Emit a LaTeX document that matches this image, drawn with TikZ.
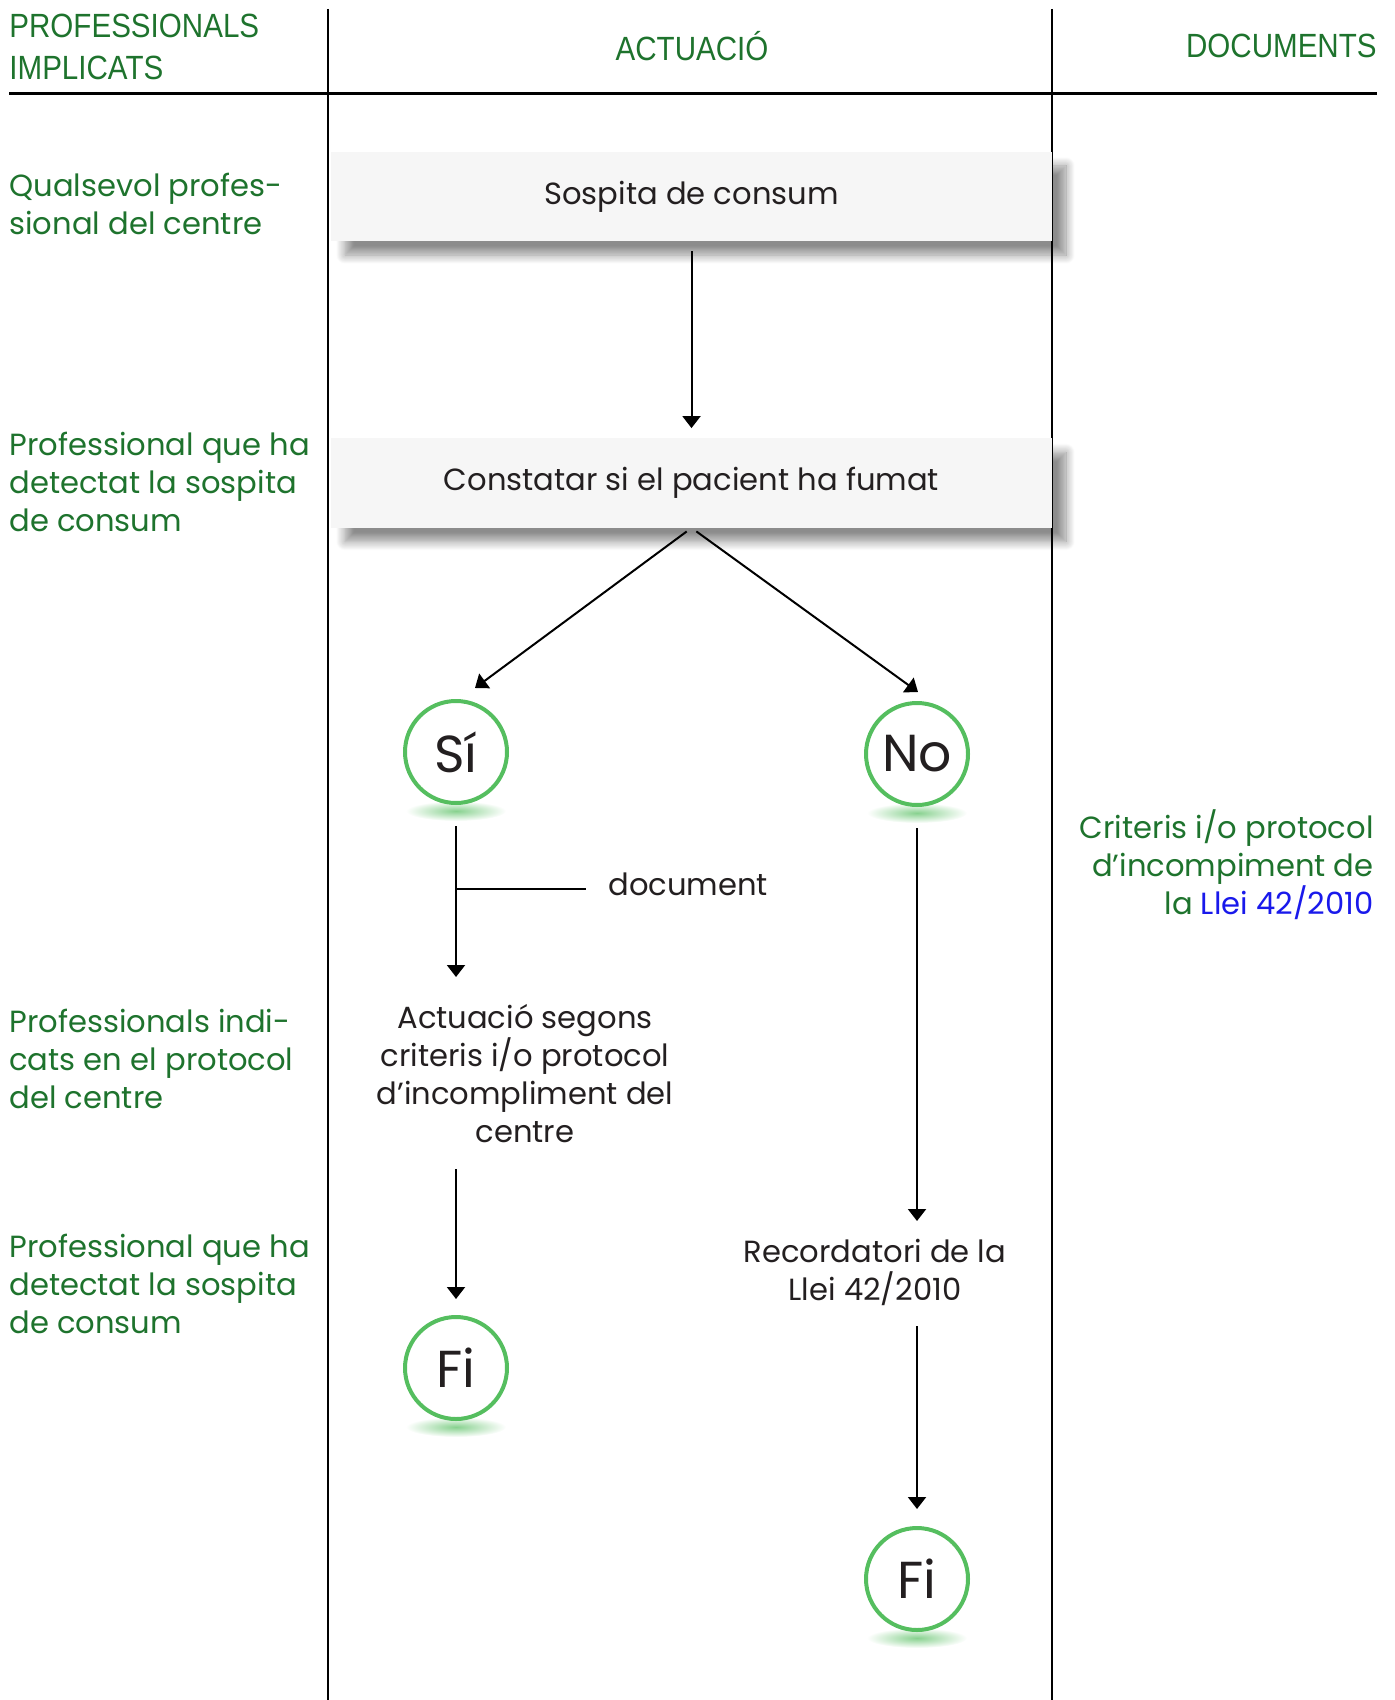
\documentclass[tikz,border=0pt]{standalone}
\usepackage{fontspec}
\setmainfont{Poppins}
\newfontfamily\capfont[FakeStretch=0.88]{Liberation Sans}
\usetikzlibrary{shadows.blur,backgrounds,arrows.meta}
\definecolor{labgreen}{RGB}{30,115,45}
\definecolor{linkblue}{RGB}{25,25,235}
\definecolor{ringgreen}{RGB}{85,190,95}
\definecolor{txtgray}{RGB}{35,31,32}

\begin{document}
\begin{tikzpicture}[x=0.5pt, y=-0.5pt, >={Triangle[length=6pt,width=9pt]},
    txt/.style={inner sep=0pt, text=txtgray, font=\fontsize{15.3}{19}\selectfont, align=center},
    lab/.style={inner sep=0pt, anchor=west, align=left, text=labgreen, font=\fontsize{15.3}{19}\selectfont},
    head/.style={inner sep=0pt, text=labgreen, font=\capfont\fontsize{16.8}{21}\selectfont},
    stepbox/.style={txt, fill=gray!7, minimum width=360.5pt, minimum height=44.5pt,
        blur shadow={shadow xshift=7pt, shadow yshift=-7pt, shadow blur steps=12,
            shadow blur radius=4.5pt, shadow opacity=45}},
    ball/.style={circle, minimum size=51pt, inner sep=0pt, draw=ringgreen, line width=2pt,
        fill=white, text=txtgray, font=\fontsize{26}{26}\selectfont},
    glow/.style={inner color=ringgreen!70, outer color=white}]
    \useasboundingbox (0,0) rectangle (1395,1700);

    % columns
    \draw[line width=1.2pt] (328,9) -- (328,1700);
    \draw[line width=1.2pt] (1052,9) -- (1052,1700);
    \draw[line width=1.5pt] (9,94) -- (1377,94);
    \node[head, anchor=west, align=left] (hprof) at (9,47) {PROFESSIONALS\\IMPLICATS};
    \node[head] (hact) at (692,46) {ACTUACIÓ};
    \node[head, anchor=east] (hdoc) at (1377,46) {DOCUMENTS};

    % who does what
    \node[lab] (l1) at (9,204) {Qualsevol profes-\\sional del centre};
    \node[lab] (l2) at (9,482) {Professional que ha\\detectat la sospita\\de consum};
    \node[lab] (l3) at (9,1059) {Professionals indi-\\cats en el protocol\\del centre};
    \node[lab] (l4) at (9,1284) {Professional que ha\\detectat la sospita\\de consum};
    \node[lab, anchor=east, align=right] (crit) at (1374,865)
        {Criteris i/o protocol\\d’incompiment de\\la \textcolor{linkblue}{Llei 42/2010}};

    % flow
    \node[stepbox] (sosp) at (691.5,196.5) {Sospita de consum};
    \node[stepbox] (const) at (691.5,483) {Constatar si el pacient ha fumat};
    \node[ball] (si) at (456,752) {Sí};
    \node[ball] (no) at (917,754) {No};
    \node[txt, anchor=north] (act) at (525,1004)
        {Actuació segons\\criteris i/o protocol\\d’incompliment del\\centre};
    \node[ball] (fi1) at (456,1368) {Fi};
    \node[txt, anchor=north] (rec) at (875,1239) {Recordatori de la\\Llei 42/2010};
    \node[ball] (fi2) at (917,1579) {Fi};
    \node[txt, anchor=west] (doc) at (608,884) {document};
    \coordinate (br) at (456,889);

    \begin{scope}[on background layer]
        \shade[glow] ([yshift=-3pt]si.south) ellipse (50 and 10);
        \shade[glow] ([yshift=-3pt]no.south) ellipse (50 and 10);
        \shade[glow] ([yshift=-3pt]fi1.south) ellipse (50 and 10);
        \shade[glow] ([yshift=-3pt]fi2.south) ellipse (50 and 10);
    \end{scope}

    \draw[->, line width=1pt, shorten <=5pt, shorten >=5pt] (sosp) -- (const);
    \draw[->, line width=1pt, shorten <=3pt] (const.south) -- ([xshift=9.5pt,yshift=5.5pt]si.north);
    \draw[->, line width=1pt, shorten <=3pt] (const.south) -- ([xshift=0.5pt,yshift=4.5pt]no.north);
    \draw[->, line width=1pt, shorten <=10.5pt, shorten >=13.5pt] (si.south) -- (si.south |- act.north);
    \draw[line width=1pt, shorten >=11pt] (br) -- (br -| doc.west);
    \draw[->, line width=1pt, shorten <=13pt, shorten >=8pt] (si.south |- act.south) -- (fi1.north);
    \draw[->, line width=1pt, shorten <=10.5pt, shorten >=9pt] (no.south) -- (no.south |- rec.north);
    \draw[->, line width=1pt, shorten <=10pt, shorten >=8.5pt] (no.south |- rec.south) -- (fi2.north);
\end{tikzpicture}
\end{document}
